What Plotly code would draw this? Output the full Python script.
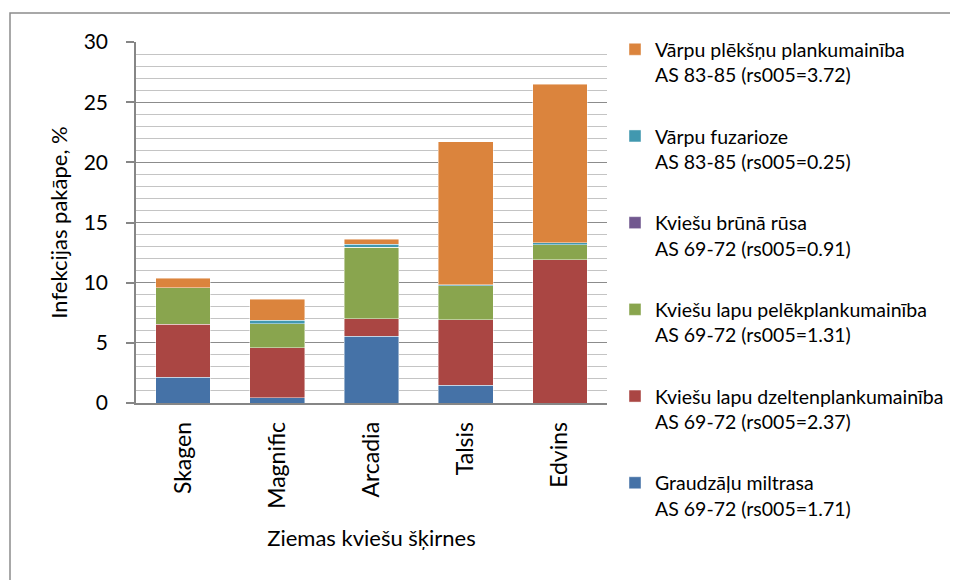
import plotly.graph_objects as go

categories = ["Skagen", "Magnific", "Arcadia", "Talsis", "Edvins"]

series_names = [
    "Graudzāļu miltrasa<br>AS 69-72 (rs005=1.71)",
    "Kviešu lapu dzeltenplankumainība<br>AS 69-72 (rs005=2.37)",
    "Kviešu lapu pelēkplankumainība<br>AS 69-72 (rs005=1.31)",
    "Kviešu brūnā rūsa<br>AS 69-72 (rs005=0.91)",
    "Vārpu fuzarioze<br>AS 83-85 (rs005=0.25)",
    "Vārpu plēkšņu plankumainība<br>AS 83-85 (rs005=3.72)",
]

miltrasa = [2.14, 0.44, 5.56, 1.47, 0.0]
dzeltenplank = [4.42, 4.14, 1.44, 5.45, 11.89]
pelekplank = [3.0, 2.0, 5.94, 2.83, 1.25]
bruna_rusa = [0.0, 0.0, 0.0, 0.0, 0.0]
fuzarioze = [0.0, 0.28, 0.25, 0.08, 0.17]
plekshnu = [0.8, 1.78, 0.42, 11.89, 13.19]

series_values = [miltrasa, dzeltenplank, pelekplank, bruna_rusa, fuzarioze, plekshnu]
colors = ["#4572A7", "#AA4643", "#89A54E", "#71588F", "#4198AF", "#DB843D"]

y_ticks = [0, 5, 10, 15, 20, 25, 30]

FONT = "Lato"

fig = go.Figure()
for i, (name, vals, col) in enumerate(zip(series_names, series_values, colors)):
    fig.add_trace(go.Bar(
        x=categories, y=vals, name=name, legendgroup=f"g{i}",
        legendrank=(6 - i) * 10,
        marker=dict(color=col, line=dict(color="rgba(255,255,255,0.55)", width=0.8)),
    ))

# page body has an 8px margin, so the figure is drawn 8px smaller and offset
fig.update_layout(
    barmode="stack",
    bargap=0.42,
    width=950, height=572,
    margin=dict(l=128, r=351, t=34, b=177, autoexpand=False),
    paper_bgcolor="white", plot_bgcolor="white",
    font=dict(family=FONT, color="#000000"),
    legend=dict(
        x=1.017, xanchor="left", y=1.033, yanchor="top",
        traceorder="grouped", tracegroupgap=33, maxheight=560,
        font=dict(family=FONT, size=19.5, color="#000000"),
        valign="top", bgcolor="rgba(0,0,0,0)",
    ),
    xaxis=dict(
        showline=True, linecolor="#868686", linewidth=1.5,
        ticks="", tickangle=-90, tickfont=dict(family=FONT, size=23),
        ticklabelstandoff=8,
        title=dict(text="Ziemas kviešu šķirnes", font=dict(family=FONT, size=22), standoff=23),
    ),
    yaxis=dict(
        range=[0, 30], tickvals=y_ticks,
        showline=True, linecolor="#868686", linewidth=1.5,
        ticks="outside", ticklen=8, tickcolor="#868686", tickwidth=1.5,
        tickfont=dict(family=FONT, size=21),
        ticklabelstandoff=14,
        showgrid=True, gridcolor="#8c8c8c", gridwidth=1.3,
        minor=dict(dtick=1, showgrid=True, gridcolor="#c4c4c4", gridwidth=1.3, ticks=""),
        zeroline=False,
        title=dict(text="Infekcijas pakāpe, %", font=dict(family=FONT, size=22), standoff=10),
    ),
    showlegend=True,
)

fig.add_shape(type="rect", xref="paper", yref="paper",
              x0=(2 - 128) / 471, x1=(975 - 128) / 471,
              y0=(395 - 600) / 361, y1=(395 - 5) / 361,
              line=dict(color="#8c8c8c", width=1.5), fillcolor="rgba(0,0,0,0)", layer="below")

fig.write_html("out.html")
